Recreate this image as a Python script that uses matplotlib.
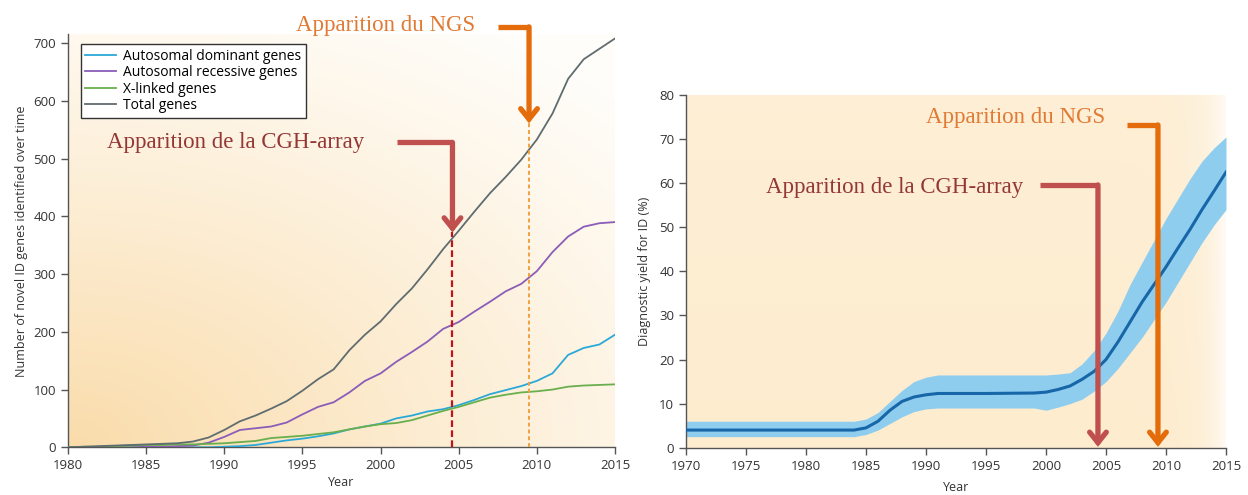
import numpy as np
import matplotlib
matplotlib.use("Agg")
import matplotlib.pyplot as plt
from matplotlib.colors import LinearSegmentedColormap

# --- left panel: cumulative novel ID genes ---
years_genes = list(range(1980, 2016))
total_genes = [0, 1, 2, 3, 4, 5, 6, 7, 10, 17, 30, 45, 55, 67, 80, 98, 118, 135,
               168, 195, 218, 248, 275, 308, 343, 375, 408, 440, 468, 498, 533,
               578, 638, 672, 690, 708]
recessive_genes = [0, 0, 0, 0, 0, 1, 1, 2, 3, 8, 18, 30, 33, 36, 43, 57, 70, 78,
                   95, 115, 128, 148, 165, 183, 205, 217, 235, 252, 270, 283, 305,
                   338, 365, 382, 388, 390]
dominant_genes = [0, 0, 0, 0, 0, 0, 0, 0, 0, 0, 1, 2, 4, 8, 12, 15, 19, 24,
                  31, 36, 41, 50, 55, 62, 66, 73, 82, 92, 99, 106, 115,
                  128, 160, 172, 178, 195]
xlinked_genes = [0, 1, 1, 2, 3, 4, 4, 5, 5, 6, 7, 9, 11, 16, 18, 20, 23, 26,
                 31, 36, 40, 42, 47, 55, 63, 70, 78, 86, 91, 95, 97,
                 100, 105, 107, 108, 109]
gene_labels = ["Autosomal dominant genes", "Autosomal recessive genes",
               "X-linked genes", "Total genes"]

# --- right panel: diagnostic yield ---
years_yield = [1970, 1975, 1980, 1983, 1984, 1985, 1986, 1987, 1988, 1989, 1990,
               1991, 1992, 1995, 1999, 2000, 2001, 2002, 2003, 2004, 2005, 2006,
               2007, 2008, 2009, 2010, 2011, 2012, 2013, 2014, 2015]
yield_mid = [4, 4, 4, 4, 4, 4.5, 6, 8.5, 10.5, 11.5, 12, 12.3, 12.3, 12.3, 12.4,
             12.6, 13.2, 14, 15.5, 17.3, 20, 24, 28.5, 33, 37, 41, 45.3, 49.5,
             54, 58.2, 62.5]
yield_low = [2.5, 2.5, 2.5, 2.5, 2.5, 3, 4, 5.5, 7, 8.2, 8.8, 9, 9, 9, 9, 8.5,
             9.2, 10, 11, 12.8, 15, 18, 21.5, 25, 29, 33, 37.5, 42, 46.5, 50.5, 54]
yield_high = [6, 6, 6, 6, 6, 6.5, 8, 10.5, 13, 15, 16, 16.5, 16.5, 16.5, 16.5,
              16.5, 16.7, 17, 19, 22, 26, 31, 37, 42, 47, 52, 56.5, 61, 65, 68,
              70.5]

CGH_TEXT = "Apparition de la CGH-array"
NGS_TEXT = "Apparition du NGS"
RED = "#c0504d"
RED_TXT = "#953735"
ORANGE = "#e46c0a"
ORANGE_TXT = "#e07a35"
SERIF = "Liberation Serif"

plt.rcParams["font.family"] = ["Open Sans", "DejaVu Sans"]

fig = plt.figure(figsize=(12.48, 4.95), dpi=100)
ax1 = fig.add_axes([68 / 1248, 1 - 447.3 / 495, 547 / 1248, 412.9 / 495])
ax2 = fig.add_axes([686 / 1248, 1 - 447.7 / 495, 540 / 1248, 352.7 / 495])


def background(ax, c0, c1, mode):
    n = 200
    u, v = np.meshgrid(np.linspace(0, 1, n), np.linspace(0, 1, n))
    if mode == "radial":
        t = np.clip(1 - np.sqrt((u * 0.85) ** 2 + (v * 1.0) ** 2) / 1.2, 0, 1) ** 1.1
    else:
        t = np.clip(1 - u ** 30, 0, 1) * (0.8 + 0.2 * (1 - v))
    cmap = LinearSegmentedColormap.from_list("bg", [c1, c0])
    ax.imshow(t, extent=[0, 1, 0, 1], origin="lower", transform=ax.transAxes,
              cmap=cmap, vmin=0, vmax=1, aspect="auto", zorder=0,
              interpolation="bilinear")


def style(ax):
    for s in ["top", "right"]:
        ax.spines[s].set_visible(False)
    for s in ["left", "bottom"]:
        ax.spines[s].set_color("#555555")
        ax.spines[s].set_linewidth(1.0)
    ax.tick_params(direction="out", length=5, width=1, color="#555555",
                   labelsize=9.5, labelcolor="#333333")


def bent_arrow(ax, x0, x1, y_top, y_tip, color):
    ax.plot([x0, x1], [y_top, y_top], color=color, lw=3.8, solid_capstyle="butt",
            clip_on=False, zorder=6)
    ax.annotate("", xy=(x1, y_tip), xytext=(x1, y_top),
                arrowprops=dict(arrowstyle="->,head_length=0.75,head_width=0.6",
                                color=color, lw=3.8, shrinkA=0, shrinkB=0,
                                joinstyle="miter"),
                annotation_clip=False, zorder=6)


# left panel
background(ax1, "#fadcab", "#fffdf9", "radial")
ax1.plot(years_genes, dominant_genes, color="#2aa9d8", lw=1.3, label=gene_labels[0], zorder=3)
ax1.plot(years_genes, recessive_genes, color="#8a5db8", lw=1.3, label=gene_labels[1], zorder=3)
ax1.plot(years_genes, xlinked_genes, color="#6aae4e", lw=1.3, label=gene_labels[2], zorder=3)
ax1.plot(years_genes, total_genes, color="#5f6c70", lw=1.3, label=gene_labels[3], zorder=3)
ax1.set_xlim(1980, 2015)
ax1.set_ylim(0, 715)
ax1.set_xticks(range(1980, 2016, 5))
ax1.set_yticks(range(0, 701, 100))
style(ax1)
ax1.set_xlabel("Year", fontsize=9, color="#333333", labelpad=3)
ax1.set_ylabel("Number of novel ID genes identified over time", fontsize=9,
               color="#333333", labelpad=4)
leg = ax1.legend(loc="upper left", bbox_to_anchor=(0.023, 0.977), fontsize=10,
                 frameon=True, fancybox=False, handlelength=2.2, borderpad=0.35,
                 labelspacing=0.1, handletextpad=0.5, borderaxespad=0)
leg.get_frame().set_edgecolor("#333333")
leg.get_frame().set_linewidth(1.0)
leg.get_frame().set_alpha(1)

ax1.vlines(2004.6, 0, 372, colors="#c0141c", linestyles=(0, (3, 1.5)), lw=1.6, zorder=4)
ax1.vlines(2009.5, 0, 561, colors="#f0a040", linestyles=(0, (2, 1.5)), lw=1.4, zorder=4)
bent_arrow(ax1, 2001.05, 2004.6, 528, 372, RED)
bent_arrow(ax1, 2007.5, 2009.5, 728, 561, ORANGE)

# right panel
background(ax2, "#fdecce", "#fffaf3", "linear")
ax2.fill_between(years_yield, yield_low, yield_high, color="#8fcdef", lw=0, zorder=2)
ax2.plot(years_yield, yield_mid, color="#1766a8", lw=2.2, zorder=3)
ax2.set_xlim(1970, 2015)
ax2.set_ylim(0, 80)
ax2.set_xticks(range(1970, 2016, 5))
ax2.set_yticks(range(0, 81, 10))
style(ax2)
ax2.set_xlabel("Year", fontsize=9, color="#333333", labelpad=6)
ax2.set_ylabel("Diagnostic yield for ID (%)", fontsize=9, color="#333333", labelpad=6)
bent_arrow(ax2, 1999.5, 2004.33, 59.6, 0.2, RED)
bent_arrow(ax2, 2006.75, 2009.33, 73.2, 0.2, ORANGE)

# annotation texts
fig.text(107 / 1248, 1 - 142 / 495, CGH_TEXT, color=RED_TXT, family=SERIF,
         fontsize=16.5, va="center", ha="left")
fig.text(475 / 1248, 1 - 25 / 495, NGS_TEXT, color=ORANGE_TXT, family=SERIF,
         fontsize=16.5, va="center", ha="right")
fig.text(766 / 1248, 1 - 188 / 495, CGH_TEXT, color=RED_TXT, family=SERIF,
         fontsize=16.5, va="center", ha="left")
fig.text(1105 / 1248, 1 - 118 / 495, NGS_TEXT, color=ORANGE_TXT, family=SERIF,
         fontsize=16.5, va="center", ha="right")

fig.savefig("out.png", dpi=100)
